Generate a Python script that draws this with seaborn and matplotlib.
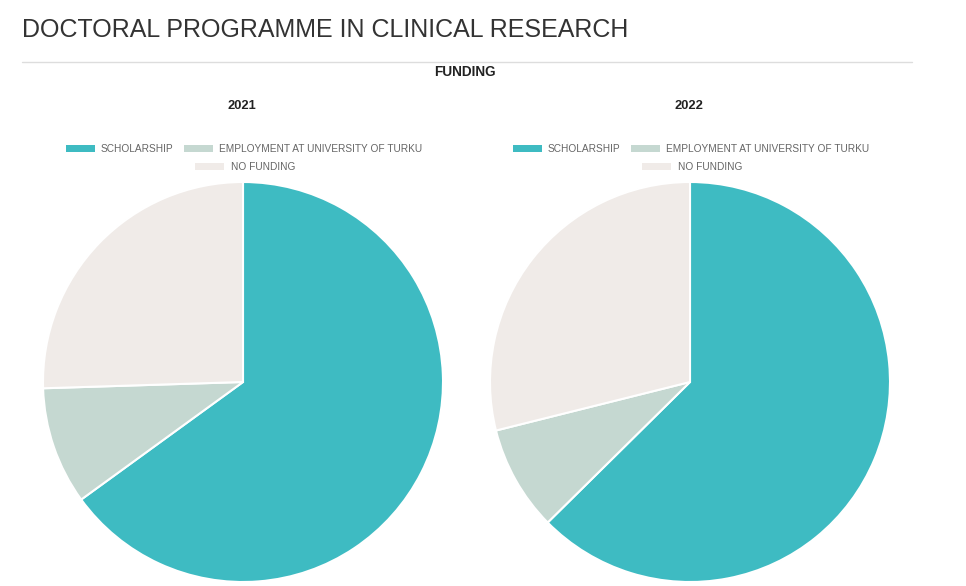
import matplotlib.pyplot as plt
import seaborn as sns
from matplotlib.lines import Line2D
from matplotlib.patches import Patch

# data (shares, %)
categories = ["SCHOLARSHIP", "EMPLOYMENT AT UNIVERSITY OF TURKU", "NO FUNDING"]
years = ["2021", "2022"]
share_2021 = [65.0, 9.5, 25.5]
share_2022 = [62.6, 8.5, 28.9]
colors = ["#3EBBC2", "#C5D8D1", "#F0EBE8"]

sns.set_theme(style="white")
plt.rcParams["font.family"] = ["Liberation Sans", "DejaVu Sans"]

W, H = 966, 586
fig = plt.figure(figsize=(W / 100, H / 100), dpi=100)
palette = sns.color_palette(colors)


def px(x, y):
    return x / W, 1 - y / H


# header
fig.text(*px(22, 30), "DOCTORAL PROGRAMME IN CLINICAL RESEARCH", fontsize=18,
         color="#333333", va="center", ha="left")
fig.add_artist(Line2D([22 / W, 912 / W], [1 - 62 / H] * 2, color="#dddddd", lw=1))
fig.text(*px(465, 72), "FUNDING", fontsize=9.8, weight="bold", color="#222222",
         ha="center", va="center")

centers = [243, 690]
radius = 200
for year, vals, cx in zip(years, [share_2021, share_2022], centers):
    ax = fig.add_axes([(cx - radius) / W, (H - 382 - radius) / H,
                       2 * radius / W, 2 * radius / H])
    ax.pie(vals, colors=palette, startangle=90, counterclock=False, radius=1,
           wedgeprops=dict(edgecolor="white", linewidth=1.5))
    ax.set_xlim(-1, 1)
    ax.set_ylim(-1, 1)
    ax.set_aspect("equal")
    ax.axis("off")

    fig.text(*px(cx - 1, 106), year, fontsize=9.3, weight="bold", color="#222222",
             ha="center", va="center")

    handles = [Patch(facecolor=c, edgecolor="none") for c in palette]
    common = dict(frameon=False, fontsize=7.3, handlelength=2.9, handleheight=0.75,
                  handletextpad=0.6, columnspacing=1.0, borderpad=0,
                  labelcolor="#666666", loc="center")
    fig.legend(handles[:2], categories[:2], ncol=2,
               bbox_to_anchor=px(cx + 1, 149), **common)
    fig.legend(handles[2:], categories[2:], ncol=1,
               bbox_to_anchor=px(cx + 2, 167), **common)

fig.savefig("out.png", dpi=100, facecolor="white")
